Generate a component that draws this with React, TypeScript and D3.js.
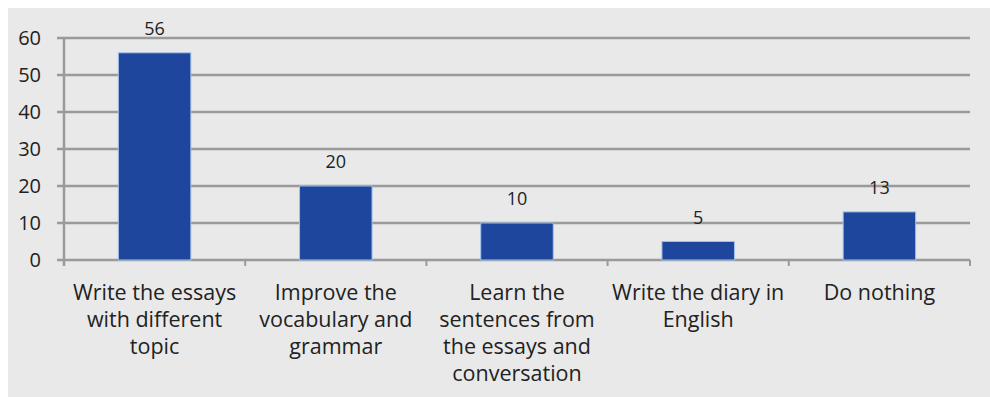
import React from "react";
import * as d3 from "d3";

const categories: string[][] = [
  ["Write the essays", "with different", "topic"],
  ["Improve the", "vocabulary and", "grammar"],
  ["Learn the", "sentences from", "the essays and", "conversation"],
  ["Write the diary in", "English"],
  ["Do nothing"],
];
const values: number[] = [56, 20, 10, 5, 13];
const yTicks: number[] = [0, 10, 20, 30, 40, 50, 60];

const W = 990;
const H = 397;
const left = 64;
const right = 970;
const top = 38;
const bottom = 260;
const font = "'Open Sans', sans-serif";

export default function App() {
  const x = d3
    .scaleBand<number>()
    .domain(categories.map((_, i) => i))
    .range([left, right])
    .paddingInner(0.6)
    .paddingOuter(0.3);
  const band = d3.scaleBand<number>().domain(categories.map((_, i) => i)).range([left, right]);
  const y = d3.scaleLinear().domain([0, 60]).range([bottom, top]);

  return (
    <svg
      width={W}
      height={H}
      style={{ position: "absolute", left: 0, top: 0, display: "block" }}
    >
      <rect x={0} y={0} width={W} height={H} fill="#ffffff" />
      <rect x={8} y={8} width={W - 8} height={H - 8} fill="#e9e9e9" />
      {yTicks.map((t) => (
        <g key={t}>
          <line
            x1={left - 7}
            x2={right}
            y1={y(t)}
            y2={y(t)}
            stroke="#9a9a9a"
            strokeWidth={2.5}
          />
          <text
            x={41}
            y={y(t)}
            dy="0.36em"
            textAnchor="end"
            fontFamily={font}
            fontSize={20}
            fill="#222"
          >
            {t}
          </text>
        </g>
      ))}
      <line x1={left} x2={left} y1={top} y2={bottom + 6} stroke="#9a9a9a" strokeWidth={2.5} />
      {categories.map((_, i) => (
        <line
          key={"t" + i}
          x1={band(i)! + band.bandwidth()}
          x2={band(i)! + band.bandwidth()}
          y1={bottom}
          y2={bottom + 6}
          stroke="#9a9a9a"
          strokeWidth={2}
        />
      ))}
      {values.map((v, i) => (
        <g key={"b" + i}>
          <rect
            x={x(i)!}
            y={y(v)}
            width={x.bandwidth()}
            height={bottom - y(v)}
            fill="#1d469c"
            stroke="#9fc0ee"
            strokeWidth={1}
          />
          <text
            x={x(i)! + x.bandwidth() / 2}
            y={y(v) - 18}
            textAnchor="middle"
            fontFamily={font}
            fontSize={18}
            fill="#222"
          >
            {v}
          </text>
        </g>
      ))}
      {categories.map((lines, i) => (
        <text
          key={"c" + i}
          x={band(i)! + band.bandwidth() / 2}
          y={300}
          textAnchor="middle"
          fontFamily={font}
          fontSize={21.5}
          fill="#222"
        >
          {lines.map((l, j) => (
            <tspan key={j} x={band(i)! + band.bandwidth() / 2} dy={j === 0 ? 0 : 27}>
              {l}
            </tspan>
          ))}
        </text>
      ))}
    </svg>
  );
}
